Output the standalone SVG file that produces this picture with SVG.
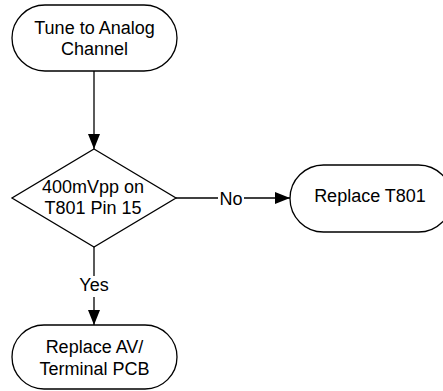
<svg xmlns="http://www.w3.org/2000/svg" width="443" height="391" viewBox="0 0 443 391">
<style>
.shape{fill:#fff;stroke:#000;stroke-width:1.3}
.t{font-family:"Liberation Sans",Arial,sans-serif;font-size:18px;fill:#000;text-anchor:middle}
.c{fill:none;stroke:#000;stroke-width:1.3}
</style>
<defs>
<marker id="ah" markerWidth="15" markerHeight="12" refX="15" refY="6" orient="auto" markerUnits="userSpaceOnUse">
<path d="M0,0 L15,6 L0,12 Z" fill="#000"/>
</marker>
</defs>
<rect width="443" height="391" fill="#fff"/>
<g id="connectors">
<path class="c" d="M94,71 V149" marker-end="url(#ah)"/>
<path class="c" d="M176,198 H290" marker-end="url(#ah)"/>
<path class="c" d="M94,247 V325" marker-end="url(#ah)"/>
<rect x="218" y="188" width="26" height="20" fill="#fff"/>
<text class="t" x="231" y="205">No</text>
<rect x="77" y="276" width="34" height="21" fill="#fff"/>
<text class="t" x="94" y="291">Yes</text>
</g>
<g id="n1">
<rect class="shape" x="12" y="5" width="165" height="66" rx="33" ry="33"/>
<text class="t" x="94.5" y="34">Tune to Analog</text>
<text class="t" x="94.5" y="55">Channel</text>
</g>
<g id="n2">
<polygon class="shape" points="94,149 176,198 94,247 12,198"/>
<text class="t" x="93" y="192.5">400mVpp on</text>
<text class="t" x="93" y="214">T801 Pin 15</text>
</g>
<g id="n3">
<rect class="shape" x="290" y="165" width="162" height="67" rx="33.5" ry="33.5"/>
<text class="t" x="370" y="202">Replace T801</text>
</g>
<g id="n4">
<rect class="shape" x="12" y="325" width="165" height="64" rx="32" ry="32"/>
<text class="t" x="94.5" y="353">Replace AV/</text>
<text class="t" x="94.5" y="375">Terminal PCB</text>
</g>
</svg>
